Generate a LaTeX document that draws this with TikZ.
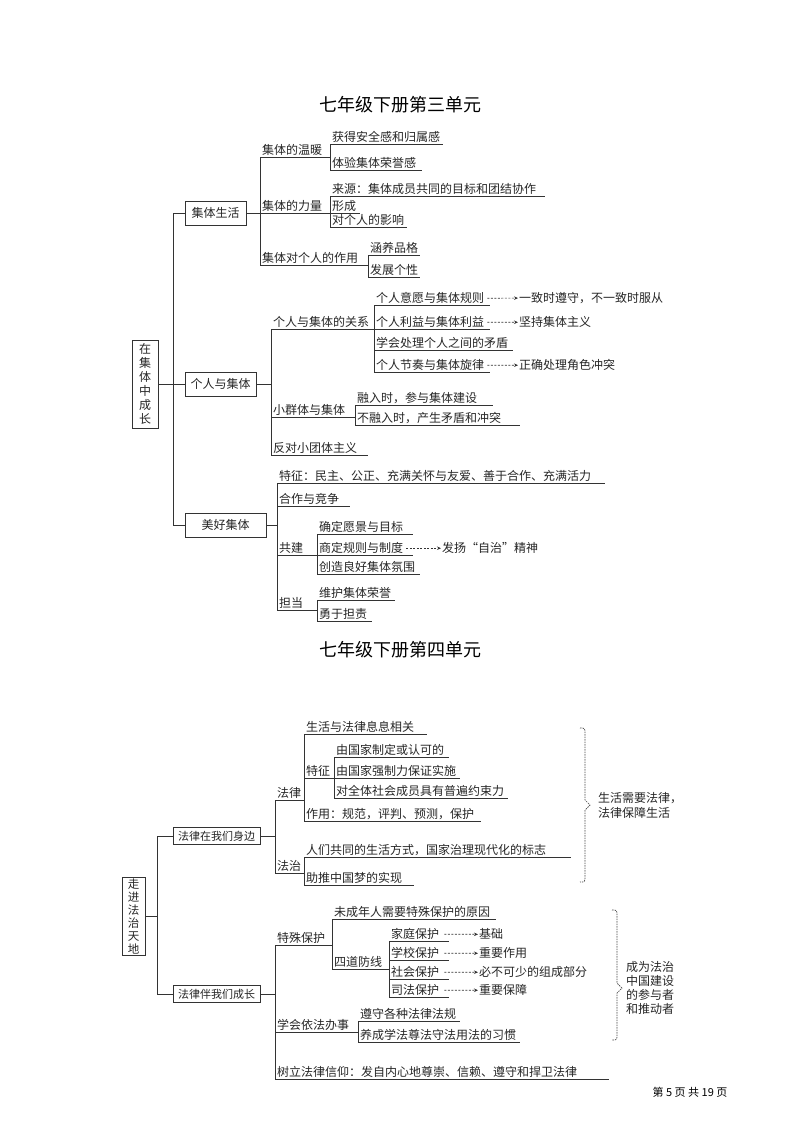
\documentclass[tikz,border=0pt]{standalone}
\usepackage{fontspec}
\setmainfont{Noto Sans CJK SC}
\usetikzlibrary{arrows.meta}
\newcommand\itm[5]{\node[lbl] (#1) at (#2,#4) {#5}; \draw[ln] (#2,#4) -- (#3,#4);}
\begin{document}
\begin{tikzpicture}[x=1pt,y=-1pt,
  ln/.style={line width=0.9pt,black!80},
  lbl/.style={anchor=south west,inner sep=1pt,xshift=1pt,font=\fontsize{12}{14}\selectfont,text=black!85},
  box/.style={draw=black!80,line width=0.9pt,inner sep=0pt,font=\fontsize{12}{14}\selectfont,text=black!85},
  sbox/.style={box,font=\fontsize{11}{13}\selectfont},
  darr/.style={line width=0.7pt,black!80,dash pattern=on 2pt off 1.5pt,-{Stealth[length=4pt,width=3.5pt]}},
  tgt/.style={anchor=south west,inner sep=1pt,font=\fontsize{12}{14}\selectfont,text=black!85},
  brc/.style={line width=0.7pt,black!70,dash pattern=on 1.5pt off 1pt}]
\useasboundingbox (0,0) rectangle (800,1130);
\fill[white] (0,0) rectangle (800,1130);
\node[font=\fontsize{18}{20}\selectfont] (t1) at (400,105) {七年级下册第三单元};
% ---------- unit 3
\node[box,minimum width=26,minimum height=88,align=center,font=\fontsize{12}{14}\selectfont] (r1) at (145,384) {在\\集\\体\\中\\成\\长};
\node[box,minimum width=61,minimum height=24] (b11) at (215.5,213) {集体生活};
\node[box,minimum width=71,minimum height=24] (b12) at (220.5,384) {个人与集体};
\node[box,minimum width=81,minimum height=24] (b13) at (225.5,525) {美好集体};
\coordinate (s1t) at (173,213); \coordinate (s1b) at (173,525);
\draw[ln] (s1t) -- (s1b);
\draw[ln] (r1.east) -- (173,384);
\draw[ln] (s1t) -- (b11.west); \draw[ln] (173,384) -- (b12.west); \draw[ln] (s1b) -- (b13.west);
% 集体生活
\draw[ln] (b11.east) -- (260,213); \draw[ln] (260,157) -- (260,265);
\itm{a1}{260}{330}{157}{集体的温暖}
\draw[ln] (330,144) -- (330,170);
\itm{a11}{330}{443}{144}{获得安全感和归属感}
\itm{a12}{330}{422}{170}{体验集体荣誉感}
\itm{a2}{260}{330}{213}{集体的力量}
\draw[ln] (330,196) -- (330,227);
\itm{a21}{330}{545}{196}{来源：集体成员共同的目标和团结协作}
\itm{a22}{330}{360}{213}{形成}
\itm{a23}{330}{407}{227}{对个人的影响}
\itm{a3}{260}{368}{265}{集体对个人的作用}
\draw[ln] (368,255) -- (368,277);
\itm{a31}{368}{420}{255}{涵养品格}
\itm{a32}{368}{420}{277}{发展个性}
% 个人与集体
\draw[ln] (b12.east) -- (271,384); \draw[ln] (271,329) -- (271,455);
\itm{c1}{271}{374}{329}{个人与集体的关系}
\draw[ln] (374,305) -- (374,372);
\itm{c11}{374}{490}{305}{个人意愿与集体规则}
\itm{c12}{374}{490}{329}{个人利益与集体利益}
\itm{c13}{374}{513}{350}{学会处理个人之间的矛盾}
\itm{c14}{374}{490}{372}{个人节奏与集体旋律}
\node[tgt] (d11) at (518,305) {一致时遵守，不一致时服从};
\node[tgt] (d12) at (518,329) {坚持集体主义};
\node[tgt] (d14) at (518,372) {正确处理角色冲突};
\draw[darr] ([xshift=2pt]c11.east) -- (d11.west);
\draw[darr] ([xshift=2pt]c12.east) -- (d12.west);
\draw[darr] ([xshift=2pt]c14.east) -- (d14.west);
\itm{c2}{271}{355}{417}{小群体与集体}
\draw[ln] (355,405) -- (355,425);
\itm{c21}{355}{493}{405}{融入时，参与集体建设}
\itm{c22}{355}{520}{425}{不融入时，产生矛盾和冲突}
\itm{c3}{271}{368}{455}{反对小团体主义}
% 美好集体
\draw[ln] (b13.east) -- (277,525); \draw[ln] (277,483) -- (277,610);
\itm{e1}{277}{605}{483}{特征：民主、公正、充满关怀与友爱、善于合作、充满活力}
\itm{e2}{277}{350}{506}{合作与竞争}
\itm{e3}{277}{317}{555}{共建}
\draw[ln] (317,534) -- (317,574);
\itm{e31}{317}{413}{534}{确定愿景与目标}
\itm{e32}{317}{413}{555}{商定规则与制度}
\itm{e33}{317}{420}{574}{创造良好集体氛围}
\node[tgt] (f32) at (441,555) {发扬“自治”精神};
\draw[darr] ([xshift=2pt]e32.east) -- (f32.west);
\itm{e4}{277}{317}{610}{担当}
\draw[ln] (317,600) -- (317,621);
\itm{e41}{317}{395}{600}{维护集体荣誉}
\itm{e42}{317}{372}{621}{勇于担责}
% ---------- unit 4
\node[font=\fontsize{18}{20}\selectfont] (t2) at (400,650) {七年级下册第四单元};
\node[box,minimum width=23,minimum height=78,align=center,font=\fontsize{11.5}{13}\selectfont] (r2) at (133.5,916) {走\\进\\法\\治\\天\\地};
\node[sbox,minimum width=87,minimum height=17] (b21) at (216.5,836) {法律在我们身边};
\node[sbox,minimum width=87,minimum height=17] (b22) at (216.5,994) {法律伴我们成长};
\coordinate (s2t) at (157,836); \coordinate (s2b) at (157,994);
\draw[ln] (s2t) -- (s2b); \draw[ln] (r2.east) -- (157,916);
\draw[ln] (s2t) -- (b21.west); \draw[ln] (s2b) -- (b22.west);
\draw[ln] (b21.east) -- (275,836); \draw[ln] (275,800) -- (275,873);
\itm{g1}{275}{304}{800}{法律}
\draw[ln] (304,734) -- (304,821);
\itm{g11}{304}{427}{734}{生活与法律息息相关}
\itm{g12}{304}{334}{778}{特征}
\draw[ln] (334,757) -- (334,798);
\itm{g121}{334}{449}{757}{由国家制定或认可的}
\itm{g122}{334}{460}{778}{由国家强制力保证实施}
\itm{g123}{334}{508}{798}{对全体社会成员具有普遍约束力}
\itm{g13}{304}{481}{821}{作用：规范，评判、预测，保护}
\itm{g2}{275}{304}{873}{法治}
\draw[ln] (304,857) -- (304,885);
\itm{g21}{304}{571}{857}{人们共同的生活方式，国家治理现代化的标志}
\itm{g22}{304}{414}{885}{助推中国梦的实现}
\draw[brc] (580,728) .. controls (585,728) .. (585,734) -- (585,800) -- (590,805) -- (585,810) -- (585,876) .. controls (585,882) .. (580,882);
\node[anchor=west,align=left,inner sep=0pt,font=\fontsize{12}{15}\selectfont,text=black!85] (h1) at (598,805) {生活需要法律，\\法律保障生活};
\draw[ln] (b22.east) -- (275,994); \draw[ln] (275,945) -- (275,1079);
\itm{k1}{275}{332}{945}{特殊保护}
\draw[ln] (332,919) -- (332,969);
\itm{k11}{332}{496}{919}{未成年人需要特殊保护的原因}
\itm{k12}{332}{389}{969}{四道防线}
\draw[ln] (389,941) -- (389,997);
\itm{m1}{389}{449}{941}{家庭保护}
\itm{m2}{389}{449}{960}{学校保护}
\itm{m3}{389}{449}{979}{社会保护}
\itm{m4}{389}{449}{997}{司法保护}
\node[tgt] (n1) at (478,941) {基础};
\node[tgt] (n2) at (478,960) {重要作用};
\node[tgt] (n3) at (478,979) {必不可少的组成部分};
\node[tgt] (n4) at (478,997) {重要保障};
\draw[darr] ([xshift=4pt]m1.east) -- (n1.west);
\draw[darr] ([xshift=4pt]m2.east) -- (n2.west);
\draw[darr] ([xshift=4pt]m3.east) -- (n3.west);
\draw[darr] ([xshift=4pt]m4.east) -- (n4.west);
\itm{k2}{275}{358}{1032}{学会依法办事}
\draw[ln] (358,1021) -- (358,1042);
\itm{k21}{358}{460}{1021}{遵守各种法律法规}
\itm{k22}{358}{520}{1042}{养成学法尊法守法用法的习惯}
\itm{k3}{275}{609}{1079}{树立法律信仰：发自内心地尊崇、信赖、遵守和捍卫法律}
\draw[brc] (612,910) .. controls (617,910) .. (617,916) -- (617,983) -- (622,988) -- (617,993) -- (617,1034) .. controls (617,1040) .. (612,1040);
\node[anchor=west,align=left,inner sep=0pt,font=\fontsize{12}{14}\selectfont,text=black!85] (h2) at (626,988) {成为法治\\中国建设\\的参与者\\和推动者};
\node[font=\fontsize{11}{13}\selectfont] (ft) at (690,1092) {第 5 页 共 19 页};
\end{tikzpicture}
\end{document}
